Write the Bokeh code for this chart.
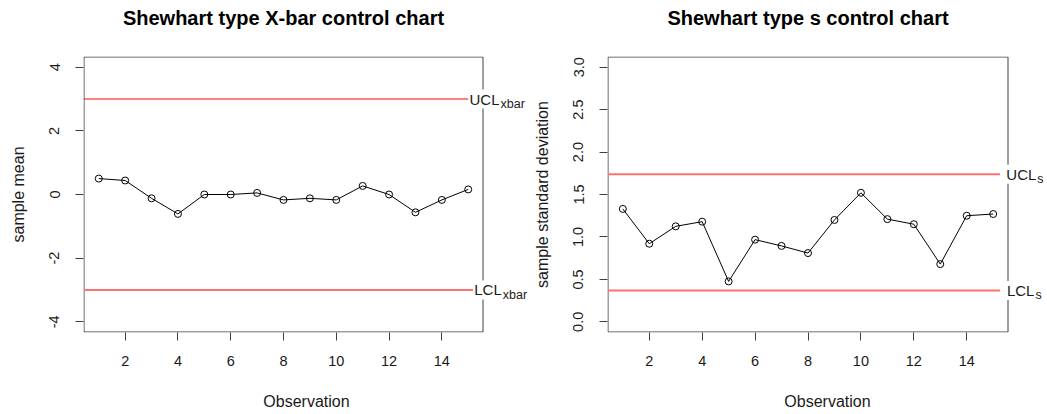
from bokeh.plotting import figure
from bokeh.layouts import row, column
from bokeh.models import Range1d, FixedTicker, Label
from bokeh.core.properties import value
from bokeh.embed import file_html
from bokeh.resources import INLINE

# ---- data ----
obs = list(range(1, 16))
xbar = [0.50, 0.44, -0.12, -0.61, 0.00, 0.00, 0.05, -0.17, -0.12, -0.17, 0.27, 0.00, -0.56, -0.17, 0.16]
sdev = [1.33, 0.92, 1.125, 1.18, 0.476, 0.968, 0.894, 0.81, 1.20, 1.52, 1.21, 1.15, 0.68, 1.25, 1.27]
ucl_xbar, lcl_xbar = 3.0, -3.0
ucl_s, lcl_s = 1.738, 0.37
x_ticks = [2, 4, 6, 8, 10, 12, 14]
y_ticks_xbar = [-4, -2, 0, 2, 4]
y_labels_xbar = ["-4", "-2", "0", "2", "4"]
y_ticks_s = [0.0, 0.5, 1.0, 1.5, 2.0, 2.5, 3.0]
y_labels_s = ["0.0", "0.5", "1.0", "1.5", "2.0", "2.5", "3.0"]
titles = ["Shewhart type X-bar control chart", "Shewhart type s control chart"]

FONT = "Liberation Sans"
TXT = "#1a1a1a"
AX = "#404040"
W = 1047
TOP = 56          # height of the title strip
H = 414 - TOP     # height of the chart row
BOT = 82          # space under the plot box

X_BOX = (0.44, 15.56)


def rng(d0, d1, b0, b1, f0, f1):
    """data range for a frame f0..f1 (px) when data d0..d1 sits at b0..b1 (px)"""
    s = (b1 - b0) / (d1 - d0)
    return d0 - (b0 - f0) / s, d1 + (f1 - b1) / s


def make_fig(ylabel, ybox, yticks, ylabels, width, frame_l, frame_r, box_l, box_r):
    y0, y1 = rng(ybox[0], ybox[1], BOT + 0.5, H - 0.5, BOT, H)
    x0, x1 = rng(X_BOX[0], X_BOX[1], box_l, box_r, frame_l, frame_r)
    p = figure(width=width, height=H, output_backend="svg", toolbar_location=None,
               x_range=Range1d(x0, x1), y_range=Range1d(y0, y1),
               min_border_left=frame_l, min_border_right=width - frame_r,
               min_border_top=0, min_border_bottom=BOT)
    p.grid.visible = False
    p.outline_line_color = None
    p.background_fill_color = "white"
    p.border_fill_color = "white"
    for ax in (p.xaxis[0], p.yaxis[0]):
        ax.axis_line_color = None
        ax.major_tick_line_color = AX
        ax.major_tick_out = 8
        ax.major_tick_in = 0
        ax.minor_tick_line_color = None
        ax.major_label_text_font = FONT
        ax.major_label_text_font_size = "14.5px"
        ax.major_label_text_color = TXT
        ax.axis_label_text_font = FONT
        ax.axis_label_text_font_size = "16px"
        ax.axis_label_text_font_style = "normal"
        ax.axis_label_text_color = TXT
    p.xaxis.ticker = FixedTicker(ticks=x_ticks)
    p.xaxis.axis_label = "Observation"
    p.xaxis.major_label_standoff = 15
    p.xaxis.axis_label_standoff = 24
    p.yaxis.ticker = FixedTicker(ticks=yticks)
    p.yaxis.major_label_overrides = dict(zip(yticks, ylabels))
    p.yaxis.major_label_orientation = "vertical"
    p.yaxis.axis_label = ylabel
    p.yaxis.major_label_standoff = 16
    p.yaxis.axis_label_standoff = 20
    # plot box (drawn in data space so the limit labels can sit over its right edge)
    p.rect(x=[(X_BOX[0] + X_BOX[1]) / 2], y=[(ybox[0] + ybox[1]) / 2],
           width=X_BOX[1] - X_BOX[0], height=ybox[1] - ybox[0],
           fill_color=None, line_color=AX, line_width=1)
    return p


EM = {"UCL": 2.0, "LCL": 1.834}
MAIN_PX = 15
SUB_PX = 12.5


def add_limit(p, y, line_end, label_x, main, sub, color, lw):
    p.segment(x0=[X_BOX[0]], y0=[y], x1=[line_end], y1=[y], line_color=color, line_width=lw)
    p.add_layout(Label(x=label_x, y=y, text=main, text_font=FONT, text_font_size=f"{MAIN_PX}px",
                       text_color=TXT, text_baseline="middle", text_align="left",
                       background_fill_color="white", padding=1))
    p.add_layout(Label(x=label_x, y=y, text=sub, text_font=FONT, text_font_size=f"{SUB_PX}px",
                       text_color=TXT, text_baseline="middle", text_align="left",
                       background_fill_color="white", padding=1,
                       x_offset=EM[main] * MAIN_PX + 1, y_offset=-5))


# ---- left: x-bar chart ----
LEFT_W = 530
p1 = make_fig("sample mean", (-4.32, 4.32), y_ticks_xbar, y_labels_xbar, LEFT_W, 83, 529, 83.5, 482.5)
add_limit(p1, ucl_xbar, 15.0, 15.01, "UCL", "xbar", "#ff0000", 1)
add_limit(p1, lcl_xbar, 15.2, 15.19, "LCL", "xbar", "#ff7070", 2)
p1.line(obs, xbar, line_color="black", line_width=1)
p1.scatter(obs, xbar, marker="circle", size=7, fill_color=None, line_color="black", line_width=1)

# ---- right: s chart ----
p2 = make_fig("sample standard deviation", (-0.12, 3.12), y_ticks_s, y_labels_s, W - LEFT_W, 77,
              W - LEFT_W, 77.5, 477.5)
add_limit(p2, ucl_s, 15.26, 15.46, "UCL", "s", "#ff7070", 2)
add_limit(p2, lcl_s, 15.26, 15.48, "LCL", "s", "#ff7070", 2)
p2.line(obs, sdev, line_color="black", line_width=1)
p2.scatter(obs, sdev, marker="circle", size=7, fill_color=None, line_color="black", line_width=1)

# ---- title strip (pixel coordinates, y measured from the top) ----
pt = figure(width=W, height=TOP, output_backend="svg", toolbar_location=None,
            x_range=Range1d(0, W), y_range=Range1d(TOP, 0),
            x_axis_type=None, y_axis_type=None, min_border=0)
pt.grid.visible = False
pt.outline_line_color = None
pt.border_fill_color = "white"
title_x = [(83.5 + 482.5) / 2, LEFT_W + (77.5 + 477.5) / 2]
pt.text(x=title_x, y=[17.5, 17.5], text=titles, text_font=value(FONT), text_font_size="20px",
        text_font_style="bold", text_color="black", text_align="center",
        text_baseline="alphabetic")

layout = column(pt, row(p1, p2))
open("out.html", "w").write(file_html(layout, INLINE))
